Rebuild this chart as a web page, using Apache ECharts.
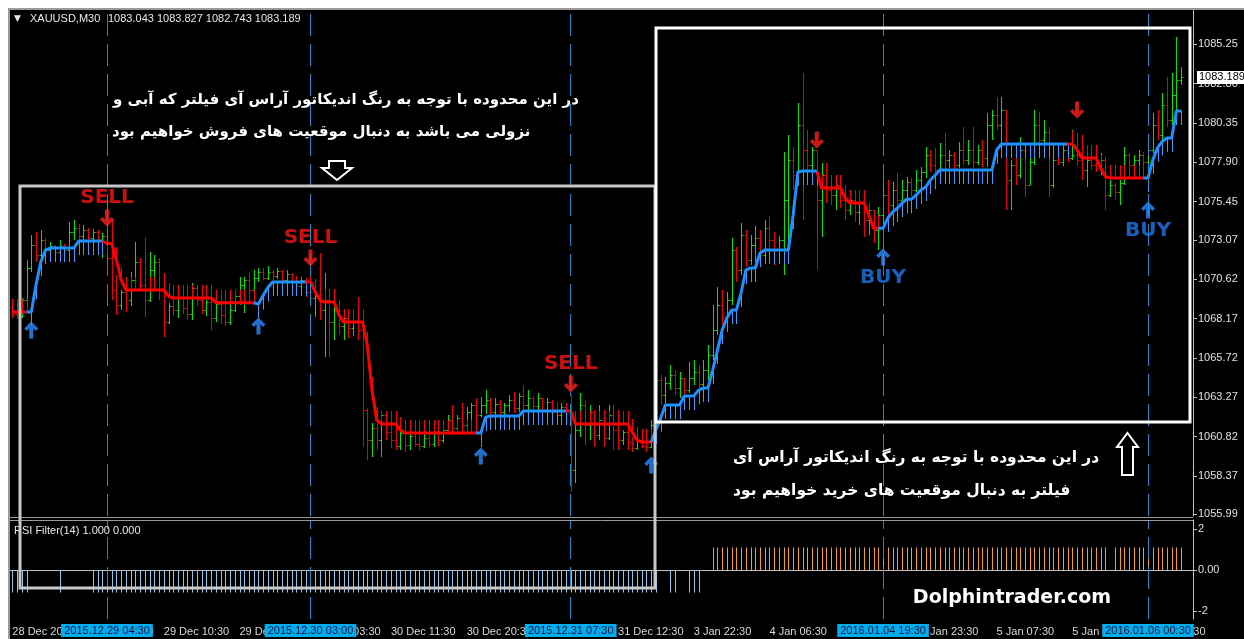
<!DOCTYPE html>
<html>
<head>
<meta charset="utf-8">
<script src="https://cdn.jsdelivr.net/npm/echarts@6/dist/echarts.min.js"></script>
<style>
  html, body { margin: 0; padding: 0; background: #fff; }
  #chart { width: 1244px; height: 639px; }
</style>
</head>
<body>
<div id="chart"></div>
<script>
// XAUUSD M30 bars (open of each bar = close of the bar before)
const firstOpen = 1068.89;
const closes = [
  1068.45, 1068.33, 1069.32, 1071.32, 1072.75, 1072.13, 1073.06, 1072.44, 1072.69, 1072.32,
  1072.69, 1072.44, 1073.56, 1073.81, 1073.31, 1073.69, 1073.19, 1073.56, 1073.06, 1073.31,
  1071.94, 1069.95, 1069.01, 1069.82, 1069.32, 1070.57, 1071.69, 1070.26, 1069.32, 1071.19,
  1071.69, 1069.95, 1067.95, 1068.95, 1068.70, 1069.45, 1068.83, 1068.45, 1070.07, 1069.32,
  1068.70, 1069.20, 1068.20, 1069.07, 1068.39, 1067.95, 1068.70, 1069.57, 1070.26, 1070.57,
  1069.95, 1070.69, 1071.07, 1070.69, 1071.07, 1070.82, 1071.13, 1070.57, 1070.94, 1070.45,
  1070.20, 1070.57, 1069.82, 1069.45, 1069.57, 1068.70, 1069.32, 1067.95, 1068.70, 1067.70,
  1068.20, 1067.58, 1067.95, 1067.45, 1062.47, 1060.60, 1061.35, 1060.60, 1062.16, 1061.10,
  1060.60, 1060.23, 1061.04, 1060.29, 1060.85, 1060.35, 1060.23, 1060.73, 1060.35, 1061.10,
  1060.60, 1061.22, 1061.85, 1061.35, 1061.97, 1061.54, 1062.34, 1062.78, 1062.16, 1062.78,
  1063.09, 1062.34, 1062.84, 1062.34, 1062.78, 1063.09, 1062.59, 1063.34, 1062.78, 1063.22,
  1062.72, 1063.22, 1062.47, 1062.97, 1062.34, 1062.16, 1062.66, 1062.22, 1058.73, 1061.22,
  1062.78, 1061.54, 1062.34, 1060.91, 1061.85, 1060.73, 1062.16, 1061.22, 1060.60, 1061.10,
  1060.48, 1060.10, 1060.60, 1060.23, 1060.17, 1061.54, 1064.34, 1063.40, 1064.15, 1064.65,
  1063.84, 1064.46, 1063.72, 1064.46, 1064.84, 1064.09, 1064.96, 1065.90, 1067.45, 1069.01,
  1068.20, 1069.32, 1072.44, 1071.19, 1073.37, 1071.82, 1072.75, 1073.19, 1072.13, 1073.81,
  1073.06, 1072.44, 1073.06, 1075.55, 1078.05, 1077.11, 1080.23, 1078.67, 1077.73, 1078.67,
  1075.55, 1077.11, 1076.18, 1075.87, 1076.49, 1075.55, 1074.93, 1075.55, 1074.81, 1075.37,
  1074.31, 1074.93, 1073.69, 1074.62, 1075.87, 1075.24, 1076.18, 1075.55, 1076.18, 1076.68,
  1076.18, 1076.80, 1077.30, 1078.36, 1077.73, 1077.42, 1078.36, 1078.05, 1078.36, 1077.73,
  1078.67, 1078.05, 1078.67, 1077.92, 1078.67, 1078.17, 1080.23, 1080.85, 1080.23, 1081.16,
  1076.80, 1077.73, 1077.11, 1078.67, 1076.49, 1077.92, 1080.23, 1079.29, 1079.79, 1076.49,
  1078.05, 1077.92, 1078.67, 1078.17, 1078.36, 1078.05, 1077.42, 1078.05, 1077.73, 1077.55,
  1078.05, 1075.87, 1076.49, 1076.05, 1076.61, 1078.36, 1077.73, 1078.05, 1078.36, 1077.92,
  1078.67, 1080.23, 1079.60, 1081.47, 1080.54, 1082.10, 1083.043, 1083.189
];
const highs = [
  1068.95, 1068.95, 1069.45, 1071.82, 1073.37, 1073.56, 1073.69, 1073.19, 1072.94, 1072.75,
  1073.06, 1072.81, 1074.18, 1074.31, 1074.06, 1074.00, 1073.81, 1073.75, 1073.69, 1073.50,
  1074.62, 1074.31, 1070.88, 1069.95, 1070.07, 1071.07, 1072.94, 1071.94, 1073.19, 1072.32,
  1072.13, 1071.94, 1071.00, 1069.14, 1069.76, 1069.70, 1069.63, 1069.32, 1070.38, 1070.07,
  1069.45, 1069.32, 1069.76, 1069.57, 1069.45, 1069.32, 1069.32, 1069.95, 1070.76, 1070.76,
  1071.07, 1071.19, 1071.32, 1071.32, 1071.44, 1071.19, 1071.32, 1071.19, 1071.19, 1071.00,
  1070.82, 1070.76, 1070.69, 1071.32, 1069.76, 1072.25, 1071.00, 1069.76, 1068.89, 1069.32,
  1068.58, 1068.70, 1068.20, 1069.51, 1067.89, 1062.59, 1061.66, 1062.16, 1062.28, 1062.28,
  1061.97, 1062.28, 1061.22, 1061.85, 1061.22, 1061.66, 1061.54, 1061.04, 1061.54, 1061.66,
  1061.35, 1061.54, 1062.16, 1062.78, 1062.16, 1062.91, 1062.66, 1062.91, 1063.22, 1063.28,
  1063.72, 1063.22, 1063.22, 1063.09, 1062.91, 1063.40, 1063.59, 1063.53, 1064.03, 1063.72,
  1063.34, 1063.53, 1063.22, 1063.22, 1063.09, 1062.97, 1062.91, 1062.91, 1063.40, 1061.54,
  1063.53, 1063.09, 1062.78, 1062.47, 1062.78, 1062.47, 1062.78, 1062.78, 1062.47, 1061.22,
  1061.54, 1060.79, 1060.79, 1060.79, 1060.60, 1061.85, 1065.90, 1064.65, 1064.53, 1065.27,
  1064.96, 1064.84, 1064.46, 1065.46, 1065.59, 1065.27, 1065.59, 1066.52, 1069.01, 1070.13,
  1069.95, 1069.82, 1073.19, 1072.63, 1074.12, 1073.69, 1073.37, 1073.93, 1073.69, 1074.31,
  1074.56, 1073.56, 1073.31, 1078.54, 1079.60, 1078.86, 1081.60, 1083.47, 1079.92, 1078.86,
  1078.67, 1077.86, 1077.86, 1076.99, 1076.80, 1076.61, 1076.49, 1076.18, 1076.05, 1075.68,
  1075.99, 1075.24, 1074.93, 1075.12, 1076.99, 1076.80, 1076.68, 1077.24, 1076.80, 1076.99,
  1076.92, 1077.42, 1077.61, 1078.86, 1078.67, 1078.79, 1079.11, 1079.73, 1078.67, 1078.54,
  1079.17, 1080.10, 1079.29, 1080.10, 1078.98, 1079.29, 1080.97, 1081.16, 1081.97, 1081.97,
  1081.16, 1078.05, 1078.98, 1079.48, 1078.79, 1078.48, 1081.16, 1081.04, 1080.54, 1080.10,
  1078.98, 1079.11, 1078.86, 1078.92, 1079.92, 1079.73, 1079.60, 1078.48, 1078.86, 1078.79,
  1078.48, 1078.23, 1076.80, 1076.61, 1076.80, 1078.86, 1078.48, 1078.36, 1078.67, 1078.54,
  1078.86, 1080.97, 1081.16, 1082.22, 1083.22, 1083.47, 1085.71, 1083.827
];
const lows = [
  1068.20, 1068.14, 1068.20, 1068.58, 1071.07, 1071.69, 1071.94, 1072.00, 1072.13, 1071.94,
  1072.06, 1071.94, 1072.32, 1073.06, 1072.81, 1072.69, 1072.63, 1072.44, 1072.13, 1071.94,
  1071.69, 1069.32, 1068.39, 1068.70, 1068.58, 1068.95, 1070.45, 1069.95, 1068.27, 1069.20,
  1069.95, 1069.32, 1067.02, 1067.83, 1068.33, 1068.20, 1068.45, 1068.08, 1068.08, 1068.95,
  1068.45, 1068.33, 1067.45, 1067.95, 1067.83, 1067.70, 1067.77, 1068.58, 1069.01, 1068.51,
  1069.76, 1069.82, 1070.45, 1070.57, 1070.57, 1070.57, 1070.63, 1070.20, 1070.26, 1070.07,
  1069.95, 1069.82, 1069.51, 1069.01, 1068.27, 1068.08, 1065.77, 1065.77, 1066.83, 1067.14,
  1066.83, 1066.95, 1067.08, 1066.83, 1060.17, 1059.35, 1059.54, 1059.98, 1059.54, 1060.60,
  1060.10, 1059.98, 1059.98, 1059.85, 1059.98, 1060.17, 1059.98, 1060.10, 1060.17, 1060.17,
  1060.23, 1060.41, 1061.04, 1060.91, 1061.04, 1061.10, 1061.22, 1061.66, 1061.72, 1062.03,
  1062.22, 1061.97, 1061.85, 1061.97, 1062.03, 1062.34, 1062.28, 1062.34, 1062.47, 1062.28,
  1062.16, 1062.03, 1061.66, 1061.85, 1061.66, 1061.85, 1061.85, 1061.97, 1057.36, 1057.92,
  1060.79, 1060.29, 1060.60, 1060.17, 1060.60, 1060.17, 1060.60, 1059.98, 1059.98, 1060.29,
  1059.98, 1059.85, 1059.98, 1060.10, 1059.85, 1060.10, 1061.35, 1062.78, 1062.47, 1063.72,
  1063.40, 1063.22, 1063.40, 1063.53, 1064.03, 1063.59, 1063.84, 1064.34, 1065.59, 1067.14,
  1067.77, 1068.08, 1069.01, 1070.45, 1070.88, 1071.38, 1071.50, 1071.69, 1071.69, 1071.82,
  1072.32, 1071.50, 1071.82, 1070.88, 1071.63, 1076.18, 1076.80, 1074.31, 1077.42, 1077.30,
  1071.19, 1073.25, 1075.37, 1075.24, 1074.93, 1075.06, 1074.31, 1074.62, 1074.18, 1074.00,
  1073.25, 1073.37, 1072.87, 1072.44, 1072.44, 1074.62, 1074.93, 1075.24, 1075.55, 1075.68,
  1075.80, 1076.05, 1076.18, 1076.92, 1077.30, 1076.92, 1077.30, 1077.42, 1077.55, 1077.42,
  1077.55, 1077.73, 1077.73, 1077.55, 1077.73, 1077.61, 1077.61, 1079.29, 1079.92, 1079.11,
  1074.93, 1074.93, 1076.49, 1076.92, 1075.74, 1076.49, 1077.73, 1078.67, 1078.36, 1075.74,
  1076.30, 1077.73, 1077.67, 1077.92, 1078.05, 1077.73, 1076.80, 1076.36, 1077.42, 1077.30,
  1077.11, 1074.93, 1075.74, 1075.55, 1075.24, 1076.49, 1077.55, 1077.42, 1077.55, 1077.61,
  1076.80, 1078.48, 1079.29, 1079.29, 1080.10, 1080.23, 1080.97, 1082.743
];

// RSI filter trailing line and its side (1 = blue / buy, -1 = red / sell)
const filterLine = [
  1068.58, 1068.58, 1068.58, 1068.58, 1068.58, 1070.26, 1071.69, 1072.44, 1072.56, 1072.56,
  1072.56, 1072.56, 1072.56, 1072.56, 1073.00, 1073.00, 1073.00, 1073.00, 1073.00, 1073.00,
  1072.85, 1072.85, 1071.80, 1070.57, 1069.95, 1069.95, 1069.95, 1069.95, 1069.95, 1069.95,
  1069.95, 1069.95, 1069.95, 1069.57, 1069.45, 1069.45, 1069.45, 1069.45, 1069.45, 1069.45,
  1069.45, 1069.45, 1069.45, 1069.15, 1069.15, 1069.15, 1069.15, 1069.15, 1069.15, 1069.15,
  1069.15, 1069.15, 1069.07, 1069.60, 1070.10, 1070.45, 1070.45, 1070.45, 1070.45, 1070.45,
  1070.45, 1070.45, 1070.45, 1070.45, 1069.82, 1069.32, 1069.20, 1069.20, 1069.20, 1068.39,
  1067.95, 1067.95, 1067.95, 1067.95, 1067.95, 1066.52, 1063.72, 1061.85, 1061.60, 1061.60,
  1061.60, 1061.60, 1061.22, 1061.04, 1061.04, 1061.04, 1061.04, 1061.04, 1061.04, 1061.04,
  1061.04, 1061.04, 1061.04, 1061.04, 1061.04, 1061.04, 1061.04, 1061.04, 1061.04, 1061.04,
  1062.03, 1062.10, 1062.10, 1062.10, 1062.10, 1062.10, 1062.10, 1062.10, 1062.41, 1062.41,
  1062.41, 1062.41, 1062.41, 1062.41, 1062.41, 1062.41, 1062.41, 1062.41, 1062.41, 1061.60,
  1061.60, 1061.60, 1061.60, 1061.60, 1061.60, 1061.60, 1061.60, 1061.60, 1061.60, 1061.60,
  1061.60, 1061.10, 1060.60, 1060.48, 1060.48, 1060.48, 1061.23, 1061.97, 1062.78, 1062.78,
  1062.78, 1062.78, 1063.34, 1063.34, 1063.34, 1063.70, 1063.84, 1063.84, 1064.96, 1066.20,
  1067.45, 1068.20, 1068.70, 1068.70, 1069.76, 1071.19, 1071.32, 1071.32, 1072.25, 1072.44,
  1072.44, 1072.44, 1072.44, 1072.44, 1072.44, 1074.62, 1077.30, 1077.36, 1077.36, 1077.36,
  1077.36, 1076.30, 1076.30, 1076.30, 1076.30, 1076.30, 1075.68, 1075.36, 1075.36, 1075.36,
  1075.36, 1074.60, 1073.80, 1073.80, 1073.80, 1074.43, 1074.80, 1075.05, 1075.36, 1075.60,
  1075.60, 1075.87, 1076.18, 1076.36, 1076.80, 1077.10, 1077.42, 1077.42, 1077.42, 1077.42,
  1077.42, 1077.42, 1077.42, 1077.42, 1077.42, 1077.42, 1077.42, 1077.42, 1078.67, 1079.04,
  1079.04, 1079.04, 1079.04, 1079.04, 1079.04, 1079.04, 1079.04, 1079.04, 1079.04, 1079.04,
  1079.04, 1079.04, 1079.04, 1079.04, 1079.04, 1078.67, 1078.17, 1078.17, 1078.17, 1078.17,
  1077.55, 1077.00, 1076.92, 1076.92, 1076.92, 1076.92, 1076.92, 1076.92, 1076.92, 1076.92,
  1076.92, 1078.05, 1078.80, 1079.20, 1079.42, 1079.42, 1081.10, 1081.10
];
const side = [
  -1, -1, -1, -1, 1, 1, 1, 1, 1, 1, 1, 1, 1, 1, 1, 1, 1, 1, 1, 1,
  -1, -1, -1, -1, -1, -1, -1, -1, -1, -1, -1, -1, -1, -1, -1, -1, -1, -1, -1, -1,
  -1, -1, -1, -1, -1, -1, -1, -1, -1, -1, -1, -1, 1, 1, 1, 1, 1, 1, 1, 1,
  1, 1, 1, -1, -1, -1, -1, -1, -1, -1, -1, -1, -1, -1, -1, -1, -1, -1, -1, -1,
  -1, -1, -1, -1, -1, -1, -1, -1, -1, -1, -1, -1, -1, -1, -1, -1, -1, -1, -1, 1,
  1, 1, 1, 1, 1, 1, 1, 1, 1, 1, 1, 1, 1, 1, 1, 1, 1, 1, -1, -1,
  -1, -1, -1, -1, -1, -1, -1, -1, -1, -1, -1, -1, -1, -1, -1, -1, 1, 1, 1, 1,
  1, 1, 1, 1, 1, 1, 1, 1, 1, 1, 1, 1, 1, 1, 1, 1, 1, 1, 1, 1,
  1, 1, 1, 1, 1, 1, 1, 1, 1, 1, 1, -1, -1, -1, -1, -1, -1, -1, -1, -1,
  -1, -1, -1, -1, 1, 1, 1, 1, 1, 1, 1, 1, 1, 1, 1, 1, 1, 1, 1, 1,
  1, 1, 1, 1, 1, 1, 1, 1, 1, 1, 1, 1, 1, 1, 1, 1, 1, 1, 1, 1,
  1, 1, 1, 1, -1, -1, -1, -1, -1, -1, -1, -1, -1, -1, -1, -1, -1, -1, -1, -1,
  1, 1, 1, 1, 1, 1, 1, 1
];

// RSI Filter(14) histogram: -1, 0 or 1
const rsiFilter = [
  -1, -1, -1, -1, 0, 0, 0, 0, 0, 0, -1, 0, 0, 0, 0, 0, 0, -1, -1, -1,
  -1, -1, -1, -1, -1, -1, -1, -1, -1, -1, -1, -1, -1, -1, -1, -1, -1, -1, -1, -1,
  -1, -1, -1, -1, -1, -1, -1, -1, -1, -1, -1, -1, -1, -1, -1, -1, -1, -1, -1, -1,
  -1, -1, -1, -1, -1, -1, -1, -1, -1, -1, -1, -1, -1, -1, -1, -1, -1, -1, -1, -1,
  -1, -1, -1, -1, -1, -1, -1, -1, -1, -1, -1, -1, -1, -1, -1, -1, -1, -1, -1, -1,
  -1, -1, -1, -1, -1, -1, -1, -1, -1, -1, -1, -1, -1, -1, -1, -1, -1, -1, -1, -1,
  -1, -1, -1, -1, -1, -1, -1, -1, -1, -1, -1, -1, -1, -1, -1, -1, -1, 0, 0, -1,
  -1, 0, 0, -1, -1, -1, 0, 0, 1, 1, 1, 1, 1, 1, 1, 1, 1, 1, 1, 1,
  1, 1, 1, 1, 1, 1, 1, 1, 1, 1, 1, 1, 1, 1, 1, 1, 1, 1, 1, 1,
  1, 1, 1, 1, 1, 1, 1, 1, 1, 1, 1, 1, 1, 1, 1, 1, 1, 1, 1, 1,
  1, 1, 1, 1, 1, 1, 1, 1, 1, 1, 1, 1, 1, 1, 1, 1, 1, 1, 1, 1,
  1, 1, 1, 1, 1, 1, 1, 1, 1, 1, 1, 1, 0, 1, 1, 1, 1, 1, 1, 1,
  1, 1, 1, 1, 1, 1, 1, 1
];

// signal arrows [bar index, price] and their captions
const sellSignals = [[20, 1074.43], [63, 1071.94], [118, 1064.09], [170, 1079.29], [225, 1081.16]];
const sellText = ['SELL', 'SELL', 'SELL', '', ''];
const buySignals = [[4, 1067.45], [52, 1067.70], [99, 1059.60], [135, 1059.04], [184, 1072.00], [240, 1074.93]];
const buyText = ['', '', '', '', 'BUY', 'BUY'];

// vertical period lines
const vlineIdx = [20, 63, 118, 184, 240];
const vlineLabels = ['2015.12.29 04:30', '2015.12.30 03:00', '2015.12.31 07:30', '2016.01.04 19:30', '2016.01.06 00:30'];

// time axis labels, one every 16 bars
const timeLabels = ['28 Dec 2015', '29 Dec 02:30', '29 Dec 10:30', '29 Dec 18:30', '30 Dec 03:30', '30 Dec 11:30',
  '30 Dec 20:30', '31 Dec 04:30', '31 Dec 12:30', '3 Jan 22:30', '4 Jan 06:30', '4 Jan 14:30',
  '4 Jan 23:30', '5 Jan 07:30', '5 Jan 15:30', '6 Jan 00:30'];
const priceTicks = [1055.99, 1058.37, 1060.82, 1063.27, 1065.72, 1068.17, 1070.62, 1073.07, 1075.45, 1077.90, 1080.35, 1082.80, 1085.25];
const rsiTicks = [-2, 0, 2];

const upColor = '#00e600', downColor = '#ee0000';
const bullColor = '#1e90ff', bearColor = '#ff0000';
const font = 'Liberation Sans';

const nBars = closes.length;
const cats = Array.from({ length: nBars + 2 }, (_, i) => String(i));
const opens = closes.map((c, i) => (i === 0 ? firstOpen : closes[i - 1]));
const ohlc = closes.map((c, i) => [i, opens[i], highs[i], lows[i], c]);
const bullLine = filterLine.map((v, i) => (side[i] > 0 || side[i + 1] > 0 ? v : null));
const bearLine = filterLine.map((v, i) => (side[i] < 0 || side[i + 1] < 0 ? v : null));
const lastBar = ohlc[nBars - 1];

const px = x => Math.round(x) + 0.5;

function renderBar(params, api) {
  const i = api.value(0);
  const o = api.value(1), h = api.value(2), l = api.value(3), c = api.value(4);
  const ph = api.coord([i, h]), pl = api.coord([i, l]);
  const yo = px(api.coord([i, o])[1]), yc = px(api.coord([i, c])[1]);
  const x = px(ph[0]);
  const color = c >= o ? upColor : downColor;
  const st = { stroke: color, lineWidth: 1 };
  return {
    type: 'group',
    children: [
      { type: 'line', shape: { x1: x, y1: ph[1], x2: x, y2: pl[1] }, style: st },
      { type: 'line', shape: { x1: x - 2, y1: yo, x2: x, y2: yo }, style: st },
      { type: 'line', shape: { x1: x, y1: yc, x2: x + 2, y2: yc }, style: st }
    ]
  };
}

// short histogram strokes hanging from the filter line
function renderHang(params, api) {
  const i = api.value(0);
  const p = api.coord([i, api.value(1)]);
  const s = api.value(2);
  const x = px(p[0]);
  return {
    type: 'line',
    shape: { x1: x, y1: p[1], x2: x, y2: s > 0 ? p[1] + 14 : p[1] - 13 },
    style: { stroke: s > 0 ? '#3a9cff' : bearColor, lineWidth: 1 }
  };
}

function renderRsi(params, api) {
  const i = api.value(0), v = api.value(1);
  if (!v) return null;
  const p0 = api.coord([i, 0]), p1 = api.coord([i, v * 1.1]);
  const x = px(p0[0]);
  return {
    type: 'line',
    shape: { x1: x, y1: p0[1], x2: x, y2: p1[1] },
    style: { stroke: v > 0 ? '#f5a00f' : '#86c8ee', lineWidth: 1 }
  };
}

const upArrow = 'path://M7,0 L14,7 L11.5,9.5 L9,7 L9,17 L5,17 L5,7 L2.5,9.5 L0,7 Z';
const downArrow = 'path://M7,17 L14,10 L11.5,7.5 L9,10 L9,0 L5,0 L5,10 L2.5,7.5 L0,10 Z';

const chart = echarts.init(document.getElementById('chart'));

const option = {
  backgroundColor: '#000',
  animation: false,
  grid: [
    { left: 10, right: 51, top: 10, height: 506 },
    { left: 10, right: 51, top: 520, height: 99 }
  ],
  xAxis: [
    { type: 'category', gridIndex: 0, data: cats, boundaryGap: true, show: false },
    {
      type: 'category', gridIndex: 1, data: cats, boundaryGap: true,
      axisLine: { lineStyle: { color: '#c0c0c0', width: 1 } },
      axisTick: { interval: 15, alignWithLabel: true, length: 4, lineStyle: { color: '#c0c0c0' } },
      axisLabel: {
        interval: 15, align: 'left', margin: 7, color: '#d8d8d8', fontSize: 11, fontFamily: font,
        formatter: (v, idx) => timeLabels[idx / 16] || ''
      }
    }
  ],
  yAxis: [
    {
      type: 'value', gridIndex: 0, position: 'right', min: 1055.87, max: 1087.39,
      splitLine: { show: false },
      axisLine: { show: true, lineStyle: { color: '#c0c0c0' } },
      axisTick: { show: true, length: 4, customValues: priceTicks, lineStyle: { color: '#c0c0c0' } },
      axisLabel: { customValues: priceTicks, margin: 5, color: '#e0e0e0', fontSize: 11, fontFamily: font,
        formatter: v => v.toFixed(2) }
    },
    {
      type: 'value', gridIndex: 1, position: 'right', min: -2.39, max: 2.44,
      splitLine: { show: false },
      axisLine: { show: true, lineStyle: { color: '#c0c0c0' } },
      axisTick: { show: true, length: 4, customValues: rsiTicks, lineStyle: { color: '#c0c0c0' } },
      axisLabel: { customValues: rsiTicks, margin: 5, color: '#e0e0e0', fontSize: 11, fontFamily: font,
        formatter: v => (v === 0 ? '0.00' : String(v)) }
    }
  ],
  series: [
    {
      type: 'custom', name: 'bars', xAxisIndex: 0, yAxisIndex: 0, z: 2,
      renderItem: renderBar, data: ohlc, encode: { x: 0, y: [1, 2, 3, 4] }
    },
    {
      type: 'custom', name: 'hist', xAxisIndex: 0, yAxisIndex: 0, z: 3,
      renderItem: renderHang, data: filterLine.map((v, i) => [i, v, side[i]]), encode: { x: 0, y: 1 }
    },
    {
      type: 'line', name: 'bear', xAxisIndex: 0, yAxisIndex: 0, z: 4, data: bearLine,
      showSymbol: false, symbol: 'none', connectNulls: false,
      lineStyle: { color: bearColor, width: 3 }
    },
    {
      type: 'line', name: 'bull', xAxisIndex: 0, yAxisIndex: 0, z: 4, data: bullLine,
      showSymbol: false, symbol: 'none', connectNulls: false,
      lineStyle: { color: bullColor, width: 3 },
      markLine: {
        silent: true, symbol: 'none', animation: false,
        data: vlineIdx.map(v => ({
          xAxis: v, label: { show: false },
          lineStyle: { color: '#1b8ccc', width: 1, type: [22, 8] }
        }))
      }
    },
    {
      // current price box on the price scale
      type: 'line', name: 'price', xAxisIndex: 0, yAxisIndex: 0, z: 8, data: [],
      markLine: {
        silent: true, symbol: 'none', animation: false,
        lineStyle: { color: 'transparent', width: 0 },
        label: {
          show: true, position: 'end', distance: 4, opacity: 1, formatter: lastBar[4].toFixed(3),
          backgroundColor: '#fff', color: '#000', padding: [1, 2], fontSize: 11, fontFamily: font
        },
        data: [{ yAxis: lastBar[4] }]
      }
    },
    {
      type: 'scatter', name: 'sell', xAxisIndex: 0, yAxisIndex: 0, z: 6,
      symbol: downArrow, symbolSize: [14, 17], itemStyle: { color: '#ff1e1e' },
      data: sellSignals.map((s, k) => ({ name: sellText[k], value: s })),
      label: { show: true, position: 'top', distance: 2, formatter: '{b}', color: '#ff1414',
        fontSize: 20, fontWeight: 'bold', fontFamily: 'DejaVu Sans' }
    },
    {
      type: 'scatter', name: 'buy', xAxisIndex: 0, yAxisIndex: 0, z: 6,
      symbol: upArrow, symbolSize: [14, 17], itemStyle: { color: '#2a8cff' },
      data: buySignals.map((s, k) => ({ name: buyText[k], value: s })),
      label: { show: true, position: 'bottom', distance: 2, formatter: '{b}', color: '#1f78ee',
        fontSize: 20, fontWeight: 'bold', fontFamily: 'DejaVu Sans' }
    },
    {
      type: 'custom', name: 'rsi', xAxisIndex: 1, yAxisIndex: 1, z: 2,
      renderItem: renderRsi, data: rsiFilter.map((v, i) => [i, v]), encode: { x: 0, y: 1 }
    },
    {
      type: 'line', name: 'rsiLines', xAxisIndex: 1, yAxisIndex: 1, z: 5, data: rsiFilter,
      showSymbol: false, symbol: 'none', lineStyle: { opacity: 0 },
      markLine: {
        silent: true, symbol: 'none', animation: false,
        lineStyle: { color: '#1b8ccc', width: 1, type: [22, 8] },
        label: {
          show: true, position: 'start', distance: 5, formatter: '{b}',
          backgroundColor: '#00aeef', color: '#10103c', padding: [1, 3], fontSize: 11, fontFamily: font
        },
        data: vlineIdx.map((v, k) => ({ xAxis: v, name: vlineLabels[k] }))
      }
    }
  ],
  graphic: [
    // page margin and window frame
    { type: 'rect', shape: { x: 0, y: 0, width: 1244, height: 8 }, style: { fill: '#fff' }, z: 50 },
    { type: 'rect', shape: { x: 0, y: 0, width: 8, height: 639 }, style: { fill: '#fff' }, z: 50 },
    { type: 'polyline', shape: { points: [[9, 639], [9, 9], [1244, 9]] }, style: { stroke: '#9a9a9a', lineWidth: 2, fill: 'none' }, z: 50 },
    { type: 'line', shape: { x1: 10, y1: 517.5, x2: 1193, y2: 517.5 }, style: { stroke: '#9a9a9a', lineWidth: 1 }, z: 50 },
    { type: 'line', shape: { x1: 10, y1: 520.5, x2: 1193, y2: 520.5 }, style: { stroke: '#9a9a9a', lineWidth: 1 }, z: 50 },
    // headers
    { type: 'text', x: 14, y: 19, style: { text: '\u25BC', fill: '#e8e8e8', font: '9px "DejaVu Sans"', textVerticalAlign: 'middle' }, z: 50 },
    { type: 'text', x: 30, y: 19, style: { text: 'XAUUSD,M30', fill: '#e8e8e8', font: '11px "Liberation Sans"', textVerticalAlign: 'middle' }, z: 50 },
    { type: 'text', x: 108, y: 19, style: { text: [lastBar[1].toFixed(3), lastBar[2].toFixed(3), lastBar[3].toFixed(3), lastBar[4].toFixed(3)].join(' '),
      fill: '#e8e8e8', font: '11px "Liberation Sans"', textVerticalAlign: 'middle' }, z: 50 },
    { type: 'text', x: 14, y: 531, style: { text: 'RSI Filter(14) 1.000 0.000', fill: '#e8e8e8', font: '11px "Liberation Sans"', textVerticalAlign: 'middle' }, z: 50 },
    // annotation boxes
    { type: 'rect', shape: { x: 20, y: 186, width: 635, height: 402 }, style: { fill: 'none', stroke: '#c8c8c8', lineWidth: 3 }, z: 60 },
    { type: 'rect', shape: { x: 656, y: 28, width: 534, height: 394 }, style: { fill: 'none', stroke: '#ffffff', lineWidth: 3 }, z: 60 },
    // notes
    { type: 'text', x: 113, y: 100, style: { text: 'در این محدوده با توجه به رنگ اندیکاتور آراس آی فیلتر که آبی و', fill: '#fff',
      font: 'bold 15px "DejaVu Sans"', textVerticalAlign: 'middle' }, z: 60 },
    { type: 'text', x: 112, y: 132, style: { text: 'نزولی می باشد به دنبال موقعیت های فروش خواهیم بود', fill: '#fff',
      font: 'bold 15px "DejaVu Sans"', textVerticalAlign: 'middle' }, z: 60 },
    { type: 'text', x: 733, y: 458, style: { text: 'در این محدوده با توجه به رنگ اندیکاتور آراس آی', fill: '#fff',
      font: 'bold 15.5px "DejaVu Sans"', textVerticalAlign: 'middle' }, z: 60 },
    { type: 'text', x: 733, y: 491, style: { text: 'فیلتر به دنبال موقعیت های خرید خواهیم بود', fill: '#fff',
      font: 'bold 15.5px "DejaVu Sans"', textVerticalAlign: 'middle' }, z: 60 },
    { type: 'polygon', shape: { points: [[329, 161], [345, 161], [345, 168], [352, 168], [337, 180], [322, 168], [329, 168]] },
      style: { fill: 'none', stroke: '#fff', lineWidth: 2 }, z: 60 },
    { type: 'polygon', shape: { points: [[1127.5, 433], [1138, 447], [1133, 447], [1133, 475], [1122, 475], [1122, 447], [1117, 447]] },
      style: { fill: 'none', stroke: '#fff', lineWidth: 2 }, z: 60 },
    { type: 'text', x: 1012, y: 598, style: { text: 'Dolphintrader.com', fill: '#fff', font: 'bold 19px "DejaVu Sans"',
      textAlign: 'center', textVerticalAlign: 'middle' }, z: 60 }
  ]
};

chart.setOption(option);
</script>
</body>
</html>
